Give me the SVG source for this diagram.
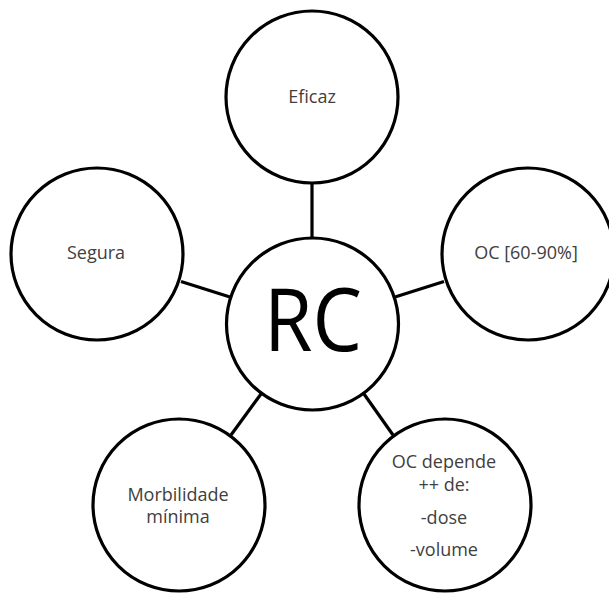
<svg xmlns="http://www.w3.org/2000/svg" width="609" height="594" viewBox="0 0 609 594">
<style>
.node circle{fill:#fff;stroke:#000;stroke-width:3.2}
.lbl{font-family:"Open Sans","Noto Sans",sans-serif;font-size:18px;fill:#404040;text-anchor:middle}
.big{font-family:"Open Sans","Noto Sans",sans-serif;font-size:88px;fill:#000;text-anchor:middle}
#connectors line{stroke:#000;stroke-width:3.2}
</style>
<rect width="609" height="594" fill="#fff"/>
<g id="connectors">
<line x1="312" y1="183" x2="312" y2="238"/>
<line x1="181" y1="281.5" x2="230" y2="297"/>
<line x1="395" y1="297" x2="444" y2="281.5"/>
<line x1="231" y1="435" x2="261" y2="394"/>
<line x1="364" y1="394" x2="393" y2="435"/>
</g>
<g id="n-eficaz" class="node"><circle cx="312" cy="97" r="86"/><text class="lbl" x="312" y="103">Eficaz</text></g>
<g id="n-segura" class="node"><circle cx="97" cy="254" r="86"/><text class="lbl" x="96" y="259">Segura</text></g>
<g id="n-oc" class="node"><circle cx="528" cy="254" r="86"/><text class="lbl" x="526" y="259">OC [60-90%]</text></g>
<g id="n-morb" class="node"><circle cx="179" cy="505" r="86"/><text class="lbl" x="178" y="501">Morbilidade</text><text class="lbl" x="178" y="523">mínima</text></g>
<g id="n-ocdep" class="node"><circle cx="445" cy="505" r="86"/><text class="lbl" x="444" y="468">OC depende</text><text class="lbl" x="444" y="491">++ de:</text><text class="lbl" x="444" y="524">-dose</text><text class="lbl" x="444" y="556">-volume</text></g>
<g id="n-rc" class="node"><circle cx="312.5" cy="324" r="86"/><text class="big" x="313" y="351" textLength="98" lengthAdjust="spacingAndGlyphs">RC</text></g>
</svg>
